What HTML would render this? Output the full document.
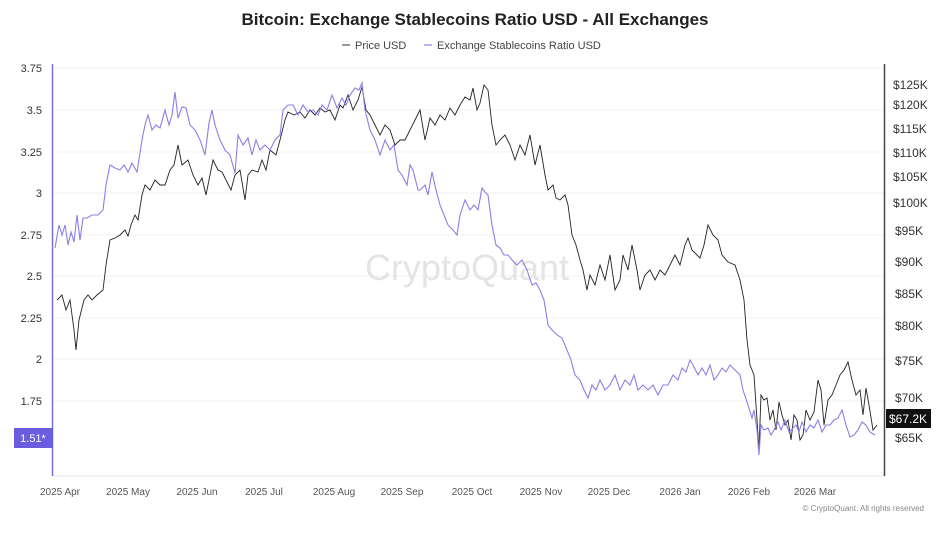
<!DOCTYPE html>
<html><head><style>
body{margin:0;background:#fff;font-family:"Liberation Sans",sans-serif;}
</style></head><body>
<svg width="950" height="530" xmlns="http://www.w3.org/2000/svg" font-family="Liberation Sans, sans-serif">
<rect width="950" height="530" fill="#fff"/>
<text x="475" y="25" text-anchor="middle" font-size="17" font-weight="bold" fill="#222">Bitcoin: Exchange Stablecoins Ratio USD - All Exchanges</text>
<line x1="342" y1="45" x2="350" y2="45" stroke="#333" stroke-width="1"/>
<text x="355" y="49" font-size="11" fill="#444">Price USD</text>
<line x1="424" y1="45" x2="432" y2="45" stroke="#7a6fe0" stroke-width="1"/>
<text x="437" y="49" font-size="11" fill="#444">Exchange Stablecoins Ratio USD</text>
<g stroke="#f2f2f2" stroke-width="1">
<line x1="53" y1="68" x2="884" y2="68"/><line x1="53" y1="110" x2="884" y2="110"/><line x1="53" y1="152" x2="884" y2="152"/><line x1="53" y1="193" x2="884" y2="193"/><line x1="53" y1="235" x2="884" y2="235"/><line x1="53" y1="276" x2="884" y2="276"/><line x1="53" y1="318" x2="884" y2="318"/><line x1="53" y1="359" x2="884" y2="359"/><line x1="53" y1="401" x2="884" y2="401"/>
</g>
<line x1="53" y1="476" x2="884" y2="476" stroke="#e6e6e6"/>
<text x="467" y="280" text-anchor="middle" font-size="36" fill="#e4e4e4">CryptoQuant</text>
<line x1="52.5" y1="64" x2="52.5" y2="476" stroke="#7a6fe0" stroke-width="1.5"/>
<line x1="884.5" y1="64" x2="884.5" y2="476" stroke="#444" stroke-width="1.5"/>
<g font-size="11" fill="#333" text-anchor="end">
<text x="42" y="72">3.75</text><text x="42" y="114">3.5</text><text x="42" y="156">3.25</text><text x="42" y="197">3</text><text x="42" y="239">2.75</text><text x="42" y="280">2.5</text><text x="42" y="322">2.25</text><text x="42" y="363">2</text><text x="42" y="405">1.75</text>
</g>
<rect x="14" y="428" width="39" height="20" fill="#6a5de0"/>
<text x="33" y="442" font-size="11" fill="#fff" text-anchor="middle">1.51*</text>
<g font-size="12" fill="#333">
<text x="893" y="89">$125K</text><text x="893" y="109">$120K</text><text x="893" y="133">$115K</text><text x="893" y="157">$110K</text><text x="893" y="181">$105K</text><text x="893" y="207">$100K</text><text x="895" y="235">$95K</text><text x="895" y="266">$90K</text><text x="895" y="298">$85K</text><text x="895" y="330">$80K</text><text x="895" y="365">$75K</text><text x="895" y="402">$70K</text><text x="895" y="442">$65K</text>
</g>
<rect x="886" y="409" width="45" height="19" fill="#111"/>
<text x="908" y="423" font-size="12" fill="#fff" text-anchor="middle">$67.2K</text>
<g font-size="10" fill="#555" text-anchor="middle">
<text x="60" y="495">2025 Apr</text><text x="128" y="495">2025 May</text><text x="197" y="495">2025 Jun</text><text x="264" y="495">2025 Jul</text><text x="334" y="495">2025 Aug</text><text x="402" y="495">2025 Sep</text><text x="472" y="495">2025 Oct</text><text x="541" y="495">2025 Nov</text><text x="609" y="495">2025 Dec</text><text x="680" y="495">2026 Jan</text><text x="749" y="495">2026 Feb</text><text x="815" y="495">2026 Mar</text>
</g>
<text x="924" y="511" font-size="8" fill="#888" text-anchor="end">© CryptoQuant. All rights reserved</text>
<polyline fill="none" stroke="#222" stroke-width="0.9" points="57,300 62,295 66,310 70,300 74,330 76,350 79,320 84,300 88,295 92,300 97,295 103,290 106,265 110,240 115,238 120,235 125,230 128,236 131,225 135,215 138,220 142,195 145,185 150,190 155,180 160,185 165,185 170,170 174,165 178,145 182,165 188,160 193,175 198,185 202,178 206,195 210,175 213,160 218,170 222,172 226,180 231,190 235,175 240,170 245,200 248,175 252,170 258,172 262,160 266,170 270,150 276,155 280,140 285,120 288,112 294,115 300,112 305,118 310,110 315,115 320,108 325,112 330,110 335,120 340,105 343,108 348,95 353,110 358,100 362,87 366,110 370,115 375,125 380,135 385,125 390,130 395,145 400,140 405,140 410,130 415,120 420,110 425,140 430,118 435,125 440,115 445,120 450,108 455,115 460,105 465,97 470,100 473,88 477,110 480,103 484,85 488,90 492,125 496,145 500,140 505,135 510,145 515,160 520,145 525,155 530,135 535,165 540,145 545,175 548,190 553,185 556,198 560,200 565,195 568,205 572,235 576,245 580,260 583,270 587,290 590,275 595,285 600,265 605,280 610,255 615,290 620,280 623,255 628,270 632,245 637,270 640,290 645,275 650,270 655,280 660,270 665,275 670,265 675,255 680,265 685,245 688,238 692,250 697,255 700,258 704,245 708,225 713,235 718,240 722,255 728,262 735,265 740,280 744,300 747,340 750,365 754,375 757,420 759,450 761,395 764,400 767,398 770,420 773,410 776,430 779,402 782,415 785,425 788,420 791,440 794,415 797,420 800,440 803,435 806,410 810,420 814,412 818,380 821,390 824,425 828,400 832,395 836,385 840,375 844,370 848,362 852,380 856,395 860,390 863,415 866,388 869,405 873,430 877,425"/>
<polyline fill="none" stroke="#8a80e6" stroke-width="1.1" points="55,248 59,225 62,235 65,225 68,245 71,232 74,242 77,215 80,240 83,218 87,218 92,215 98,215 103,210 106,185 110,165 115,168 120,170 124,165 128,172 132,163 137,172 142,140 145,125 148,115 152,130 156,125 160,128 165,110 169,125 172,115 175,92 178,118 182,107 186,108 190,125 195,130 200,140 205,155 209,123 212,110 215,125 220,140 225,150 230,155 235,173 238,135 243,145 248,138 252,155 256,140 260,150 265,145 270,150 275,140 280,135 283,110 288,105 293,105 298,115 303,105 308,112 313,110 318,115 322,105 327,110 332,95 337,108 342,98 346,105 350,95 355,88 359,90 362,83 365,110 370,130 375,140 380,155 385,140 390,150 394,145 398,170 402,175 407,185 410,165 413,170 418,190 420,190 425,185 428,195 432,172 436,190 440,205 444,215 448,225 453,230 457,235 460,215 465,200 470,210 474,205 478,210 482,188 485,192 488,195 492,225 496,245 500,248 504,255 508,255 512,260 517,265 522,260 527,270 532,285 536,283 540,290 544,300 548,325 552,330 557,335 562,338 567,350 571,360 575,375 580,380 584,390 588,398 592,385 596,390 600,380 605,390 610,385 615,375 620,390 625,380 630,385 634,375 638,390 643,385 648,390 653,385 658,395 663,385 668,385 673,375 678,380 682,368 686,372 690,360 693,365 698,375 702,368 706,375 710,365 714,380 718,375 722,368 726,372 730,365 735,370 740,375 743,390 748,405 752,418 754,410 757,430 759,455 761,425 764,430 768,428 771,435 774,430 778,422 781,430 785,420 789,432 793,428 796,425 799,432 802,422 806,432 810,425 814,428 818,420 822,432 826,425 830,425 834,420 838,418 842,410 846,425 850,437 854,435 858,430 862,422 866,425 870,432 875,435"/>
</svg>
</body></html>
